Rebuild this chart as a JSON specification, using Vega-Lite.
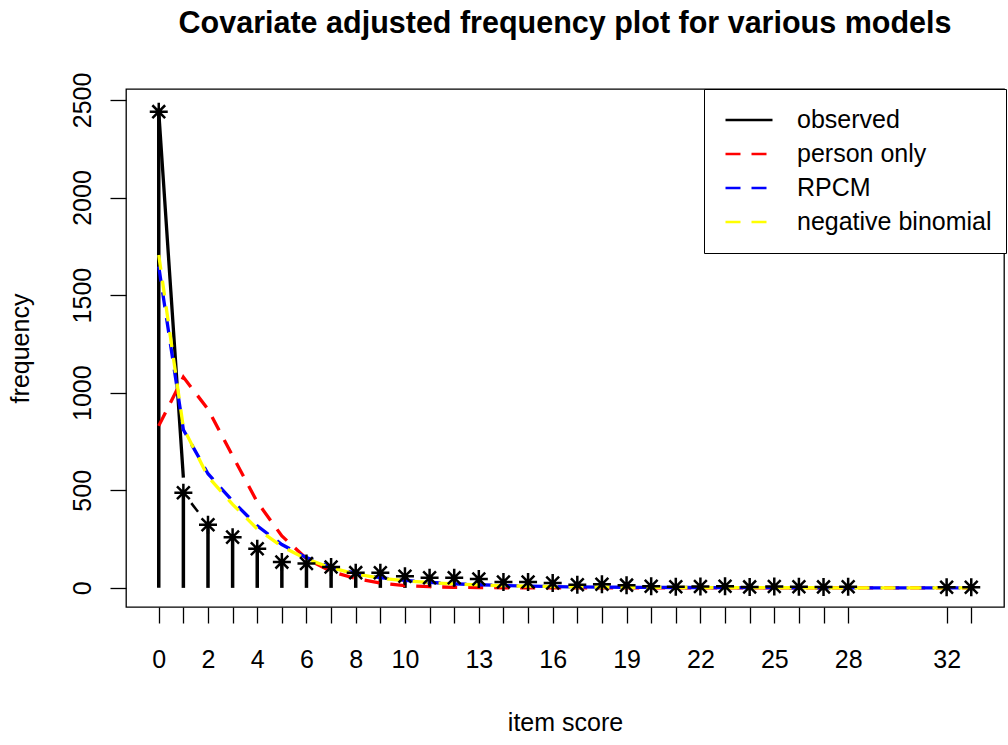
{
  "$schema": "https://vega.github.io/schema/vega-lite/v6.json",
  "autosize": {"type": "none"},
  "width": 878,
  "height": 518,
  "padding": {"left": 126, "top": 89, "right": 4, "bottom": 138},
  "background": "white",
  "config": {
    "font": "Liberation Sans",
    "view": {"stroke": "black", "strokeWidth": 1.3},
    "axis": {"grid": false, "domain": false, "tickColor": "black", "tickWidth": 1.3, "tickSize": 16, "labelColor": "black", "titleColor": "black", "labelFontSize": 25, "titleFontSize": 25, "titleFontWeight": "normal", "labelFont": "Liberation Sans", "titleFont": "Liberation Sans"}
  },
  "title": {"text": "Covariate adjusted frequency plot for various models", "fontSize": 30.5, "fontWeight": "bold", "font": "Liberation Sans", "color": "black", "anchor": "middle", "frame": "group", "baseline": "alphabetic", "offset": 9},
  "datasets": {
    "observed": [
      {"score": 0, "freq": 2440}, {"score": 1, "freq": 487}, {"score": 2, "freq": 323}, {"score": 3, "freq": 260},
      {"score": 4, "freq": 200}, {"score": 5, "freq": 132}, {"score": 6, "freq": 125}, {"score": 7, "freq": 107},
      {"score": 8, "freq": 78}, {"score": 9, "freq": 77}, {"score": 10, "freq": 60}, {"score": 11, "freq": 52},
      {"score": 12, "freq": 52}, {"score": 13, "freq": 45}, {"score": 14, "freq": 30}, {"score": 15, "freq": 30},
      {"score": 16, "freq": 25}, {"score": 17, "freq": 16}, {"score": 18, "freq": 19}, {"score": 19, "freq": 14},
      {"score": 20, "freq": 8}, {"score": 21, "freq": 6}, {"score": 22, "freq": 7}, {"score": 23, "freq": 8},
      {"score": 24, "freq": 5}, {"score": 25, "freq": 7}, {"score": 26, "freq": 6}, {"score": 27, "freq": 5},
      {"score": 28, "freq": 6}, {"score": 32, "freq": 3}, {"score": 33, "freq": 3}
    ],
    "obsdash": [
      {"score": 1, "freq": 487}, {"score": 2, "freq": 323}
    ],
    "curves": [
      {"series": "observed", "score": 0, "freq": 2440}, {"series": "observed", "score": 1, "freq": 565},
      {"series": "person only", "score": 0, "freq": 830}, {"series": "person only", "score": 1, "freq": 1080},
      {"series": "person only", "score": 2, "freq": 915}, {"series": "person only", "score": 3, "freq": 676},
      {"series": "person only", "score": 4, "freq": 440}, {"series": "person only", "score": 5, "freq": 266},
      {"series": "person only", "score": 6, "freq": 150}, {"series": "person only", "score": 7, "freq": 84},
      {"series": "person only", "score": 8, "freq": 48}, {"series": "person only", "score": 9, "freq": 25},
      {"series": "person only", "score": 10, "freq": 12}, {"series": "person only", "score": 11, "freq": 6},
      {"series": "person only", "score": 12, "freq": 3}, {"series": "person only", "score": 13, "freq": 1.5},
      {"series": "person only", "score": 14, "freq": 0.7}, {"series": "person only", "score": 15, "freq": 0.3},
      {"series": "person only", "score": 16, "freq": 0.2}, {"series": "person only", "score": 17, "freq": 0.1},
      {"series": "person only", "score": 18, "freq": 0.1}, {"series": "person only", "score": 19, "freq": 0},
      {"series": "person only", "score": 20, "freq": 0}, {"series": "person only", "score": 21, "freq": 0},
      {"series": "person only", "score": 22, "freq": 0}, {"series": "person only", "score": 23, "freq": 0},
      {"series": "person only", "score": 24, "freq": 0}, {"series": "person only", "score": 25, "freq": 0},
      {"series": "person only", "score": 26, "freq": 0}, {"series": "person only", "score": 27, "freq": 0},
      {"series": "person only", "score": 28, "freq": 0}, {"series": "person only", "score": 32, "freq": 0},
      {"series": "person only", "score": 33, "freq": 0},
      {"series": "RPCM", "score": 0, "freq": 1646}, {"series": "RPCM", "score": 1, "freq": 810},
      {"series": "RPCM", "score": 2, "freq": 585}, {"series": "RPCM", "score": 3, "freq": 445},
      {"series": "RPCM", "score": 4, "freq": 318}, {"series": "RPCM", "score": 5, "freq": 222},
      {"series": "RPCM", "score": 6, "freq": 155}, {"series": "RPCM", "score": 7, "freq": 108},
      {"series": "RPCM", "score": 8, "freq": 74}, {"series": "RPCM", "score": 9, "freq": 52},
      {"series": "RPCM", "score": 10, "freq": 38}, {"series": "RPCM", "score": 11, "freq": 28},
      {"series": "RPCM", "score": 12, "freq": 21}, {"series": "RPCM", "score": 13, "freq": 16},
      {"series": "RPCM", "score": 14, "freq": 12}, {"series": "RPCM", "score": 15, "freq": 9},
      {"series": "RPCM", "score": 16, "freq": 7}, {"series": "RPCM", "score": 17, "freq": 5},
      {"series": "RPCM", "score": 18, "freq": 4}, {"series": "RPCM", "score": 19, "freq": 3},
      {"series": "RPCM", "score": 20, "freq": 2.5}, {"series": "RPCM", "score": 21, "freq": 2},
      {"series": "RPCM", "score": 22, "freq": 1.5}, {"series": "RPCM", "score": 23, "freq": 1.2},
      {"series": "RPCM", "score": 24, "freq": 1}, {"series": "RPCM", "score": 25, "freq": 0.8},
      {"series": "RPCM", "score": 26, "freq": 0.6}, {"series": "RPCM", "score": 27, "freq": 0.5},
      {"series": "RPCM", "score": 28, "freq": 0.4}, {"series": "RPCM", "score": 32, "freq": 0.2},
      {"series": "RPCM", "score": 33, "freq": 0.1},
      {"series": "negative binomial", "score": 0, "freq": 1706}, {"series": "negative binomial", "score": 1, "freq": 820},
      {"series": "negative binomial", "score": 2, "freq": 570}, {"series": "negative binomial", "score": 3, "freq": 428},
      {"series": "negative binomial", "score": 4, "freq": 302}, {"series": "negative binomial", "score": 5, "freq": 212},
      {"series": "negative binomial", "score": 6, "freq": 148}, {"series": "negative binomial", "score": 7, "freq": 103},
      {"series": "negative binomial", "score": 8, "freq": 71}, {"series": "negative binomial", "score": 9, "freq": 50},
      {"series": "negative binomial", "score": 10, "freq": 36}, {"series": "negative binomial", "score": 11, "freq": 27},
      {"series": "negative binomial", "score": 12, "freq": 20}, {"series": "negative binomial", "score": 13, "freq": 15},
      {"series": "negative binomial", "score": 14, "freq": 11}, {"series": "negative binomial", "score": 15, "freq": 8.5},
      {"series": "negative binomial", "score": 16, "freq": 6.5}, {"series": "negative binomial", "score": 17, "freq": 5},
      {"series": "negative binomial", "score": 18, "freq": 4}, {"series": "negative binomial", "score": 19, "freq": 3},
      {"series": "negative binomial", "score": 20, "freq": 2.5}, {"series": "negative binomial", "score": 21, "freq": 2},
      {"series": "negative binomial", "score": 22, "freq": 1.6}, {"series": "negative binomial", "score": 23, "freq": 1.3},
      {"series": "negative binomial", "score": 24, "freq": 1}, {"series": "negative binomial", "score": 25, "freq": 0.8},
      {"series": "negative binomial", "score": 26, "freq": 0.7}, {"series": "negative binomial", "score": 27, "freq": 0.5},
      {"series": "negative binomial", "score": 28, "freq": 0.4}, {"series": "negative binomial", "score": 32, "freq": 0.2},
      {"series": "negative binomial", "score": 33, "freq": 0.1}
    ]
  },
  "encoding": {
    "x": {
      "field": "score", "type": "quantitative",
      "scale": {"domain": [-1.33, 34.33], "nice": false, "zero": false},
      "axis": {
        "title": "item score",
        "values": [0,1,2,3,4,5,6,7,8,9,10,11,12,13,14,15,16,17,18,19,20,21,22,23,24,25,26,27,28,32,33],
        "labelExpr": "indexof([0,2,4,6,8,10,13,16,19,22,25,28,32], datum.value) >= 0 ? datum.label : ''",
        "labelPadding": 24, "labelOverlap": false, "labelFlush": false, "titlePadding": 38
      }
    },
    "y": {
      "field": "freq", "type": "quantitative",
      "scale": {"domain": [-98, 2556], "nice": false, "zero": false},
      "axis": {
        "title": "frequency", "format": "d",
        "values": [0, 500, 1000, 1500, 2000, 2500],
        "labelAngle": -90, "labelAlign": "center", "labelBaseline": "alphabetic",
        "labelPadding": 20, "labelOverlap": false, "labelFlush": false, "titlePadding": 37
      }
    }
  },
  "layer": [
    {
      "data": {"name": "observed"},
      "mark": {"type": "rule", "color": "black", "strokeWidth": 3.5},
      "encoding": {"y2": {"datum": 0}}
    },
    {
      "data": {"name": "obsdash"},
      "mark": {"type": "line", "color": "black", "strokeWidth": 2.5, "strokeDash": [11, 40], "strokeDashOffset": -13},
      "encoding": {}
    },
    {
      "data": {"name": "curves"},
      "mark": {"type": "line", "strokeWidth": 3.3},
      "encoding": {
        "color": {
          "field": "series", "type": "nominal",
          "scale": {"domain": ["observed", "person only", "RPCM", "negative binomial"], "range": ["#000000", "#FF0000", "#0000FF", "#FFFF00"]},
          "legend": {
            "title": null, "orient": "none", "legendX": 578, "legendY": 0,
            "strokeColor": "black", "fillColor": "white", "padding": 14,
            "symbolType": "stroke", "symbolSize": 2209, "symbolStrokeWidth": 2.5,
            "symbolOffset": 6, "labelOffset": 23, "clipHeight": 33.75, "rowPadding": 0,
            "labelFontSize": 25, "labelColor": "black", "labelFont": "Liberation Sans", "labelLimit": 400
          }
        },
        "strokeDash": {
          "field": "series", "type": "nominal",
          "scale": {"domain": ["observed", "person only", "RPCM", "negative binomial"], "range": [[1, 0], [15, 11], [15, 11], [15, 11]]},
          "legend": {
            "title": null, "orient": "none", "legendX": 578, "legendY": 0,
            "strokeColor": "black", "fillColor": "white", "padding": 14,
            "symbolType": "stroke", "symbolSize": 2209, "symbolStrokeWidth": 2.5,
            "symbolOffset": 6, "labelOffset": 23, "clipHeight": 33.75, "rowPadding": 0,
            "labelFontSize": 25, "labelColor": "black", "labelFont": "Liberation Sans", "labelLimit": 400
          }
        },
        "order": {"field": "score", "type": "quantitative"}
      }
    },
    {
      "data": {"name": "observed"},
      "mark": {"type": "point", "shape": "M-1,0L1,0M0,-1L0,1M-0.71,-0.71L0.71,0.71M-0.71,0.71L0.71,-0.71", "size": 324, "filled": false, "color": "black", "strokeWidth": 2.5, "opacity": 1}
    }
  ]
}
